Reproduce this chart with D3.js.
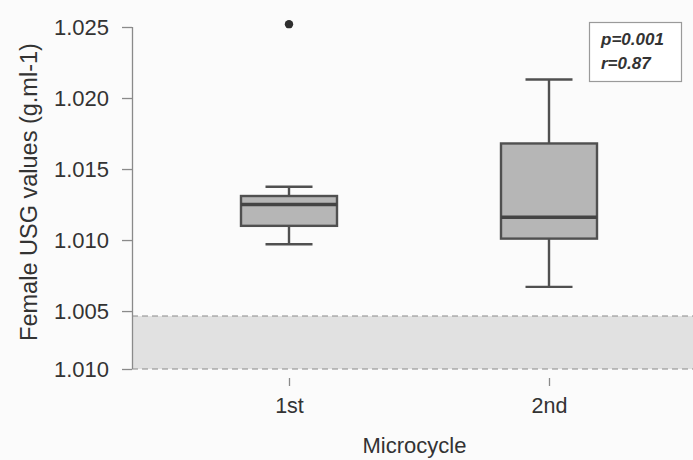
<!DOCTYPE html>
<html>
<head>
<meta charset="utf-8">
<script src="https://cdn.jsdelivr.net/npm/d3@7"></script>
<style>
  html, body { margin: 0; padding: 0; background: #fbfbfb; }
  svg { display: block; font-family: "Liberation Sans", Arial, sans-serif; }
</style>
</head>
<body>
<svg id="chart" width="693" height="460"></svg>
<script>
// Urine specific gravity per microcycle (box-and-whisker summaries)
const categories = ["1st", "2nd"];
const whiskerLow  = [1.0097, 1.0067];
const q1          = [1.0110, 1.0101];
const median      = [1.0125, 1.0116];
const q3          = [1.0131, 1.0168];
const whiskerHigh = [1.01375, 1.0213];
const outliers    = [[1.0252], []];

// y axis: the lowest tick marks the axis break and carries its own label
const yTickValues = [1.025, 1.020, 1.015, 1.010, 1.005, 1.00092];
const yTickLabels = ["1.025", "1.020", "1.015", "1.010", "1.005", "1.010"];

// shaded reference band (lower end of the axis up to just under 1.005)
const refBand = [1.00092, 1.00465];

const statsText = ["p=0.001", "r=0.87"];

const FONT = '"Liberation Sans", Arial, sans-serif';
const TEXT = "#333333";
const svg = d3.select("#chart");

const y = d3.scaleLinear().domain([1.00092, 1.025]).range([369, 27]);
const x = d3.scalePoint().domain(categories).range([159, 679]).padding(0.5);
const axisX0 = 132, plotRight = 693;
const boxW = 96, capW = 47;

// reference band
svg.append("rect")
  .attr("x", axisX0).attr("width", plotRight - axisX0)
  .attr("y", y(refBand[1])).attr("height", y(refBand[0]) - y(refBand[1]))
  .attr("fill", "#e1e1e1");
svg.selectAll("line.band")
  .data(refBand)
  .join("line")
  .attr("class", "band")
  .attr("x1", axisX0).attr("x2", plotRight)
  .attr("y1", d => y(d)).attr("y2", d => y(d))
  .attr("stroke", "#8a8a8a").attr("stroke-width", 1.2)
  .attr("stroke-dasharray", "6,4");

// y axis
const yAxis = svg.append("g")
  .attr("transform", `translate(${axisX0},0)`)
  .call(d3.axisLeft(y)
    .tickValues(yTickValues)
    .tickFormat((d, i) => yTickLabels[i])
    .tickSizeInner(10).tickSizeOuter(0).tickPadding(13))
  .attr("font-family", FONT);
yAxis.select(".domain").attr("stroke", "#8a8a8a").attr("stroke-width", 1.3)
  .attr("d", `M0.5,${y(yTickValues[0])}V${y(yTickValues[yTickValues.length - 1])}`);
yAxis.selectAll(".tick line").attr("stroke", "#8a8a8a").attr("stroke-width", 1.3);
yAxis.selectAll(".tick text")
  .attr("fill", TEXT).style("font-size", "22px");

// x axis (ticks only)
const xAxis = svg.append("g")
  .attr("transform", "translate(0,378)")
  .call(d3.axisBottom(x).tickSizeInner(8).tickSizeOuter(0).tickPadding(12))
  .attr("font-family", FONT);
xAxis.select(".domain").remove();
xAxis.selectAll(".tick line").attr("stroke", "#8a8a8a").attr("stroke-width", 1.3);
xAxis.selectAll(".tick text")
  .attr("fill", TEXT).style("font-size", "21.5px");

// axis titles
svg.append("text")
  .attr("x", (axisX0 + plotRight) / 2 + 2).attr("y", 453)
  .attr("text-anchor", "middle")
  .attr("fill", TEXT).style("font-size", "22px")
  .text("Microcycle");
svg.append("text")
  .attr("transform", "translate(37,192) rotate(-90)")
  .attr("text-anchor", "middle")
  .attr("fill", TEXT).style("font-size", "23.5px")
  .text("Female USG values (g.ml-1)");

// boxes
const boxes = categories.map((c, i) => ({
  c, lo: whiskerLow[i], q1: q1[i], med: median[i], q3: q3[i], hi: whiskerHigh[i], out: outliers[i]
}));
const g = svg.selectAll("g.box").data(boxes).join("g").attr("class", "box");
const stroke = "#505050";

// whisker stems
g.append("line")
  .attr("x1", d => x(d.c)).attr("x2", d => x(d.c))
  .attr("y1", d => y(d.hi)).attr("y2", d => y(d.q3))
  .attr("stroke", stroke).attr("stroke-width", 2.4);
g.append("line")
  .attr("x1", d => x(d.c)).attr("x2", d => x(d.c))
  .attr("y1", d => y(d.q1)).attr("y2", d => y(d.lo))
  .attr("stroke", stroke).attr("stroke-width", 2.4);
// whisker caps
["hi", "lo"].forEach(k => {
  g.append("line")
    .attr("x1", d => x(d.c) - capW / 2).attr("x2", d => x(d.c) + capW / 2)
    .attr("y1", d => y(d[k])).attr("y2", d => y(d[k]))
    .attr("stroke", stroke).attr("stroke-width", 2.4);
});
// box body
g.append("rect")
  .attr("x", d => x(d.c) - boxW / 2).attr("width", boxW)
  .attr("y", d => y(d.q3)).attr("height", d => y(d.q1) - y(d.q3))
  .attr("fill", "#b6b6b6").attr("stroke", stroke).attr("stroke-width", 2.4);
// median
g.append("line")
  .attr("x1", d => x(d.c) - boxW / 2).attr("x2", d => x(d.c) + boxW / 2)
  .attr("y1", d => y(d.med)).attr("y2", d => y(d.med))
  .attr("stroke", "#444").attr("stroke-width", 3.4);
// outliers
g.selectAll("circle")
  .data(d => d.out.map(v => ({ c: d.c, v })))
  .join("circle")
  .attr("cx", d => x(d.c)).attr("cy", d => y(d.v))
  .attr("r", 4.2).attr("fill", "#2e2e2e");

// statistics box
const legend = svg.append("g").attr("transform", "translate(589,22)");
legend.append("rect")
  .attr("x", 0.5).attr("y", 0.5).attr("width", 92).attr("height", 59)
  .attr("fill", "#ffffff").attr("stroke", "#9a9a9a").attr("stroke-width", 1.2);
legend.selectAll("text")
  .data(statsText)
  .join("text")
  .attr("x", 12).attr("y", (d, i) => 23 + i * 24)
  .attr("fill", "#333").style("font-size", "17px")
  .style("font-weight", "bold").style("font-style", "italic")
  .text(d => d);
</script>
</body>
</html>
